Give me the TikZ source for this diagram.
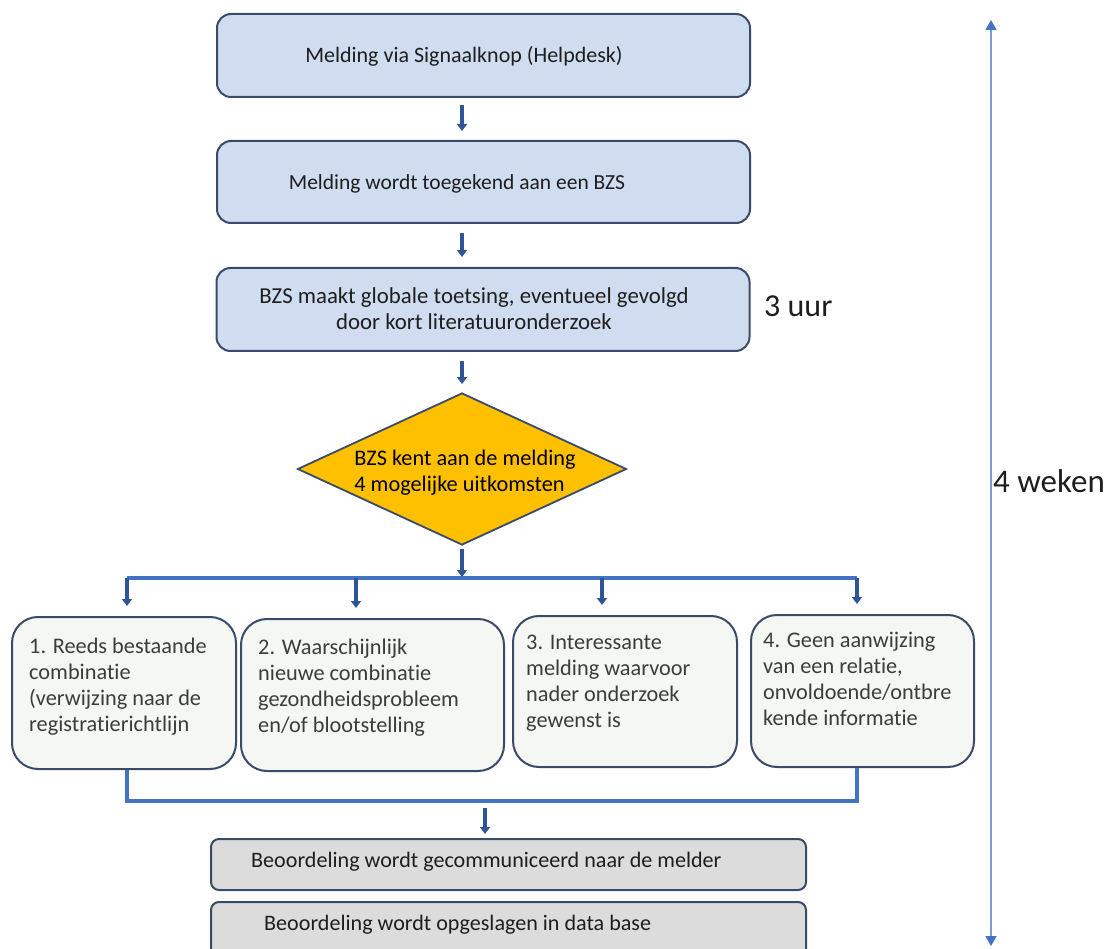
\documentclass[tikz,border=0pt]{standalone}
\usepackage{fontspec}
\setmainfont{Carlito}[RawFeature={-liga;-clig;-calt;-dlig}]
\usetikzlibrary{shapes.geometric,arrows.meta,calc}
\definecolor{topfill}{HTML}{D0DCEF}
\definecolor{boxline}{HTML}{3A4A6A}
\definecolor{smallfill}{HTML}{F5F7F3}
\definecolor{greyfill}{HTML}{DCDCDC}
\definecolor{gold}{HTML}{FFC000}
\definecolor{arrblue}{HTML}{2F5597}
\definecolor{busblue}{HTML}{4472C4}
\definecolor{spanblue}{HTML}{7C9CD6}
\definecolor{txt}{HTML}{1E1E1E}
\definecolor{txtgrey}{HTML}{3C3C3C}
\begin{document}
\begin{tikzpicture}[x=1pt,y=-1pt,
  topbox/.style={draw=boxline,line width=2pt,fill=topfill,rounded corners=14pt,minimum width=533pt,minimum height=83pt,inner sep=0pt},
  smallbox/.style={draw=boxline,line width=2pt,fill=smallfill,rounded corners=26pt,minimum height=152pt,inner sep=0pt},
  greybox/.style={draw=boxline,line width=2pt,fill=greyfill,rounded corners=8pt,minimum width=595pt,inner sep=0pt},
  toptext/.style={text=txt,align=center,inner sep=0pt},
  smalltext/.style={text=txtgrey,font=\fontsize{22.3}{26}\selectfont,align=left,anchor=north west,inner sep=0pt},
  greytext/.style={text=txt,font=\fontsize{22.1}{26}\selectfont,anchor=west,inner sep=0pt},
  bigtext/.style={text=txt,anchor=west,inner sep=0pt},
  arr/.style={draw=arrblue,line width=3.6pt,-{Triangle[length=7pt,width=10pt]}},
  bus/.style={draw=busblue,line width=3.4pt},
  span/.style={draw=spanblue,line width=1.5pt,{Triangle[length=10pt,width=11pt,fill=busblue,color=busblue]}-{Triangle[length=10pt,width=11pt,fill=busblue,color=busblue]}}
]
\useasboundingbox (0,0) rectangle (1109,949);

% top boxes
\node[topbox] (b1) at (483.5,55.5) {};
\node[toptext,font=\fontsize{22}{26}\selectfont] (t1) at (464,56) {Melding via Signaalknop (Helpdesk)};
\node[topbox,minimum height=82pt] (b2) at (483.5,182) {};
\node[toptext,font=\fontsize{21.5}{26}\selectfont] (t2) at (457,184) {Melding wordt toegekend aan een BZS};
\node[topbox] (b3) at (483,309.5) {};
\node[toptext,font=\fontsize{22.8}{26}\selectfont] (t3) at (474,309) {BZS maakt globale toetsing, eventueel gevolgd\\door kort literatuuronderzoek};

% diamond
\node[diamond,draw=boxline,line width=1.8pt,fill=gold,aspect=2.16,minimum width=329pt,minimum height=152pt,inner sep=0pt] (dia) at (462,469) {};
\node[text=black,font=\fontsize{22.3}{26}\selectfont,align=left,inner sep=0pt] (dt) at (465,473)
      {BZS kent aan de melding\\4 mogelijke uitkomsten};

% arrows down the main column
\draw[arr] ([yshift=-7pt]b1.south -| dia.north) -- ([yshift=9pt]b2.north -| dia.north);
\draw[arr] ([yshift=-9pt]b2.south -| dia.north) -- ([yshift=10pt]b3.north -| dia.north);
\draw[arr] ([yshift=-9pt]b3.south -| dia.north) -- ([yshift=8pt]dia.north);

% outcome boxes
\node[smallbox,minimum width=224pt] (o1) at (124,693) {};
\node[smallbox,minimum width=263pt] (o2) at (372.5,695) {};
\node[smallbox,minimum width=224pt,minimum height=151pt] (o3) at (625,691.5) {};
\node[smallbox,minimum width=223pt] (o4) at (862.5,691) {};

\node[smalltext] (s1) at ([xshift=18pt,yshift=-22pt]o1.north west) {1. Reeds bestaande\\combinatie\\(verwijzing naar de\\registratierichtlijn};
\node[smalltext] (s2) at ([xshift=18pt,yshift=-21pt]o2.north west) {2. Waarschijnlijk\\nieuwe combinatie\\gezondheidsprobleem\\en/of blootstelling};
\node[smalltext] (s3) at ([xshift=14pt,yshift=-20pt]o3.north west) {3. Interessante\\melding waarvoor\\nader onderzoek\\gewenst is};
\node[smalltext] (s4) at ([xshift=13pt,yshift=-18pt]o4.north west) {4. Geen aanwijzing\\van een relatie,\\onvoldoende/ontbre\\kende informatie};

% upper bus
\coordinate (u1) at (127,578);
\coordinate (u2) at (356,578);
\coordinate (u3) at (602,578);
\coordinate (u4) at (857,578);
\draw[arr] ([yshift=-3pt]dia.south) -- ([yshift=1pt]dia.south |- u1);
\draw[bus] (u1) -- (u4);
\draw[arr] (u1) -- ([yshift=10pt]o1.north -| u1);
\draw[arr] (u2) -- ([yshift=10pt]o2.north -| u2);
\draw[arr] (u3) -- ([yshift=10pt]o3.north -| u3);
\draw[arr] (u4) -- ([yshift=10pt]o4.north -| u4);

% lower bus
\coordinate (l1) at (127,801);
\coordinate (l4) at (857,801);
\draw[bus] (o1.south -| l1) -- (l1) -- (l4) -- (o4.south -| l4);

% final boxes
\node[greybox,minimum height=51pt] (g1) at (508.5,864.5) {};
\node[greytext] (gt1) at (251,862) {Beoordeling wordt gecommuniceerd naar de melder};
\node[greybox,minimum height=64pt] (g2) at (508.5,934) {};
\node[greytext] (gt2) at (264,925) {Beoordeling wordt opgeslagen in data base};
\coordinate (mid) at (485,808);
\draw[arr] (mid) -- ([yshift=4pt]g1.north -| mid);

% time labels
\node[bigtext,font=\fontsize{32}{36}\selectfont] (uur) at (764,306) {3 uur};
\coordinate (st) at (991,20);
\coordinate (sb) at (991,946);
\draw[span] (st) -- (sb);
\node[bigtext,font=\fontsize{33}{38}\selectfont] (wk) at (993,481) {4 weken};
\end{tikzpicture}
\end{document}
